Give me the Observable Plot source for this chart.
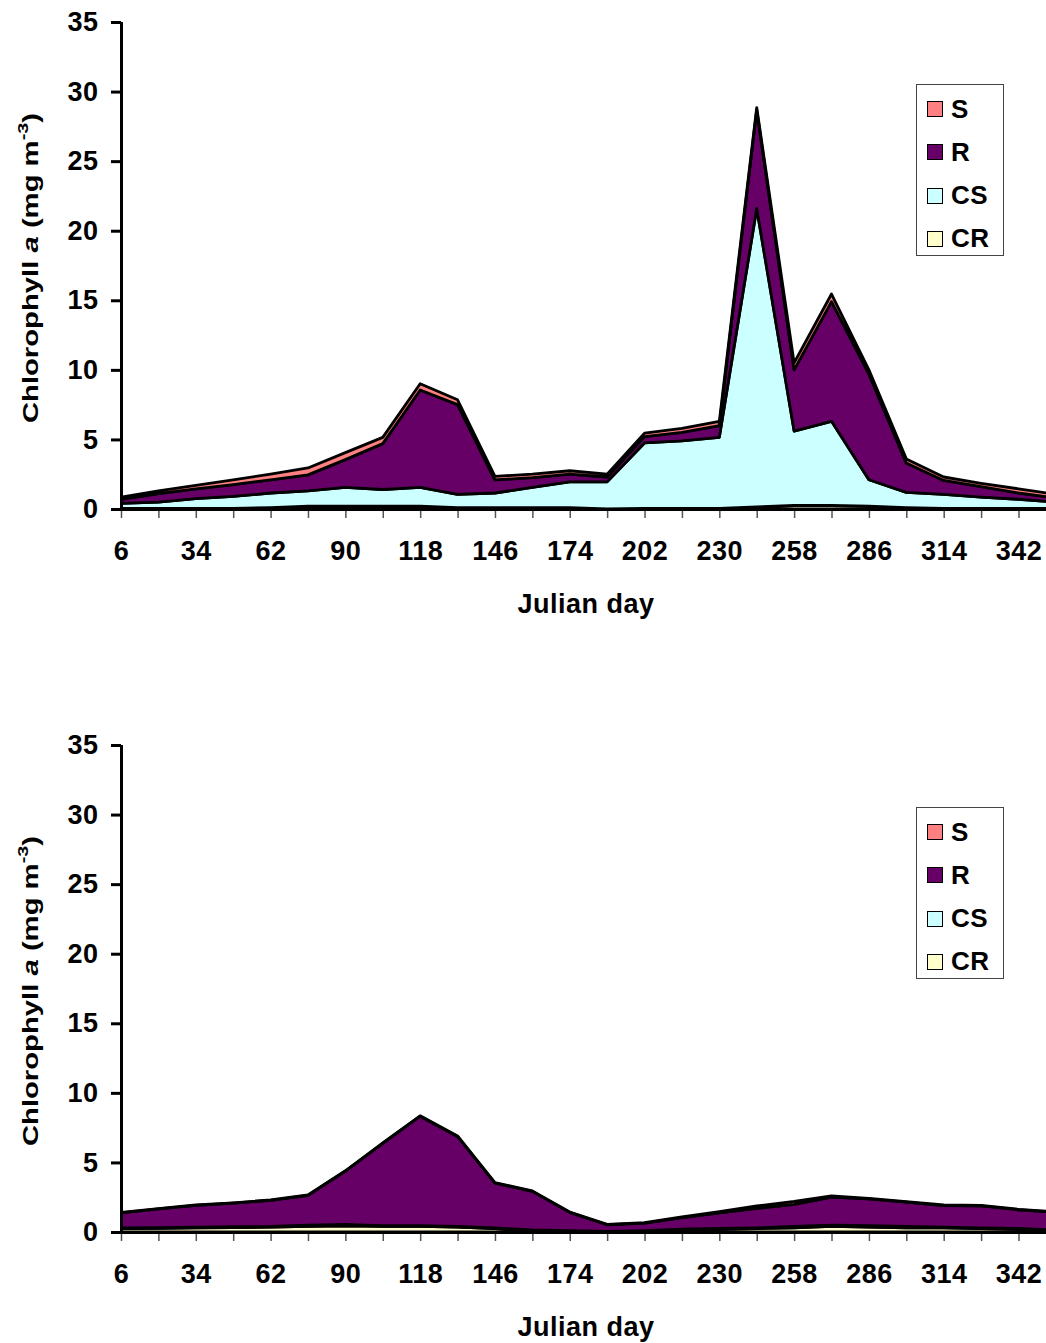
<!DOCTYPE html>
<html><head><meta charset="utf-8">
<script src="https://cdn.jsdelivr.net/npm/d3@7"></script>
<script src="https://cdn.jsdelivr.net/npm/@observablehq/plot@0.6"></script>
<style>
body{margin:0;background:#fff;font-family:"Liberation Sans",Arial,sans-serif;}
.panel{position:relative;width:1046px;}
.legend{position:absolute;left:916px;top:84px;width:86px;height:170px;border:1px solid #444;background:#fff;}
.entry{position:absolute;left:10px;height:26px;display:flex;align-items:center;font-size:26px;font-weight:bold;color:#000;letter-spacing:0.5px;}
.sw{width:14px;height:14px;border:1.5px solid #000;margin-right:8px;}
</style></head><body><div id="chart"></div><script>
const days = [6,20,34,48,62,76,90,104,118,132,146,160,174,188,202,216,230,244,258,272,286,300,314,328,342,356];
const labelDays = [6,34,62,90,118,146,174,202,230,258,286,314,342];
const yTicks = [0,5,10,15,20,25,30,35];
const stackOrder = ["CR","CS","R","S"];
const legendNames = ["S","R","CS","CR"];
const colors = {S:"#ff8080", R:"#660066", CS:"#ccffff", CR:"#ffffcc"};

// Panel 1
const topCR = [0.05,0.05,0.05,0.05,0.1,0.2,0.2,0.2,0.2,0.1,0.1,0.1,0.1,0.0,0.05,0.05,0.05,0.15,0.25,0.25,0.2,0.1,0.05,0.05,0.05,0.05];
const topCS = [0.35,0.45,0.7,0.85,1.05,1.1,1.35,1.2,1.35,0.95,1.05,1.45,1.85,1.95,4.7,4.85,5.1,21.45,5.35,6.05,1.9,1.1,1.0,0.8,0.65,0.45];
const topR  = [0.3,0.6,0.7,0.85,0.95,1.15,2.0,3.3,7.0,6.45,0.95,0.7,0.55,0.35,0.45,0.6,0.85,7.1,4.4,8.6,7.6,2.1,1.0,0.75,0.45,0.3];
const topS  = [0.15,0.2,0.25,0.35,0.4,0.5,0.5,0.45,0.45,0.35,0.25,0.25,0.25,0.2,0.25,0.3,0.3,0.15,0.5,0.55,0.3,0.3,0.25,0.25,0.3,0.25];

// Panel 2
const botCR = [0.25,0.27,0.3,0.32,0.35,0.4,0.45,0.4,0.4,0.35,0.25,0.1,0.05,0.02,0.05,0.15,0.2,0.25,0.3,0.4,0.35,0.3,0.3,0.25,0.2,0.1];
const botCS = [0.05,0.05,0.05,0.06,0.05,0.1,0.1,0.05,0.05,0.05,0.05,0.05,0.05,0.03,0.05,0.05,0.05,0.05,0.1,0.1,0.1,0.1,0.05,0.05,0.05,0.05];
const botR  = [1.08,1.34,1.57,1.7,1.88,2.13,3.82,5.92,7.87,6.47,3.22,2.77,1.31,0.47,0.54,0.83,1.13,1.4,1.58,2.0,1.93,1.74,1.55,1.58,1.35,1.27];
const botS  = [0.02,0.02,0.02,0.02,0.02,0.03,0.03,0.03,0.03,0.03,0.03,0.03,0.03,0.03,0.03,0.05,0.08,0.17,0.22,0.1,0.04,0.04,0.04,0.04,0.03,0.03];

function makePanel(vals, height) {
  const rows = days.flatMap((d, i) => stackOrder.map(s => ({day: d, series: s, value: vals[s][i]})));
  const plot = Plot.plot({
    width: 1046, height,
    marginTop: 22, marginLeft: 121, marginRight: 0, marginBottom: height - 509,
    style: {fontFamily: "Liberation Sans, Arial, sans-serif", fontSize: "27px", fontWeight: "bold", letterSpacing: "0.5px", color: "#000", background: "#fff", overflow: "visible"},
    x: {domain: [6, 352.3], label: null},
    y: {domain: [0, 35], label: null},
    color: {domain: legendNames, range: legendNames.map(s => colors[s])},
    marks: [
      Plot.areaY(rows, {x: "day", y: "value", z: "series", fill: "series", order: stackOrder,
        stroke: "#000", strokeWidth: 2.8, clip: true}),
      Plot.axisX({ticks: days, tickSize: 9, tickFormat: () => "", stroke: "#555", strokeWidth: 1.5, label: null}),
      Plot.axisX({ticks: labelDays, tickSize: 0, tickPadding: 31, tickFormat: d => String(d), label: null}),
      Plot.axisY({ticks: yTicks, tickSize: 10, tickPadding: 13, strokeWidth: 3, tickFormat: d => String(d), label: null}),
      Plot.ruleY([0], {strokeWidth: 3}),
      Plot.ruleX([6], {strokeWidth: 3})
    ]
  });
  const svg = d3.select(plot);
  const yl = svg.append("text")
    .attr("transform", "translate(38,268) rotate(-90) scale(1.33,1)")
    .attr("text-anchor", "middle")
    .attr("font-size", 22).attr("font-weight", "bold").attr("fill", "#000").attr("letter-spacing", "0px");
  yl.append("tspan").text("Chlorophyll ");
  yl.append("tspan").attr("font-style", "italic").text("a");
  yl.append("tspan").text(" (mg m");
  yl.append("tspan").attr("font-size", 15).attr("dy", -10).text("-3");
  yl.append("tspan").attr("dy", 10).text(")");
  svg.append("text").attr("x", 586).attr("y", 613).attr("text-anchor", "middle")
    .attr("font-size", 27).attr("font-weight", "bold").attr("fill", "#000").text("Julian day");

  const div = document.createElement("div");
  div.className = "panel";
  div.appendChild(plot);
  const lg = document.createElement("div");
  lg.className = "legend";
  legendNames.forEach((s, i) => {
    const e = document.createElement("div");
    e.className = "entry";
    e.style.top = (11 + i * 43.3) + "px";
    const sw = document.createElement("div");
    sw.className = "sw";
    sw.style.background = colors[s];
    e.appendChild(sw);
    e.appendChild(document.createTextNode(s));
    lg.appendChild(e);
  });
  div.appendChild(lg);
  return div;
}

const chart = document.getElementById("chart");
chart.appendChild(makePanel({CR: topCR, CS: topCS, R: topR, S: topS}, 723));
chart.appendChild(makePanel({CR: botCR, CS: botCS, R: botR, S: botS}, 620));
</script></body></html>
